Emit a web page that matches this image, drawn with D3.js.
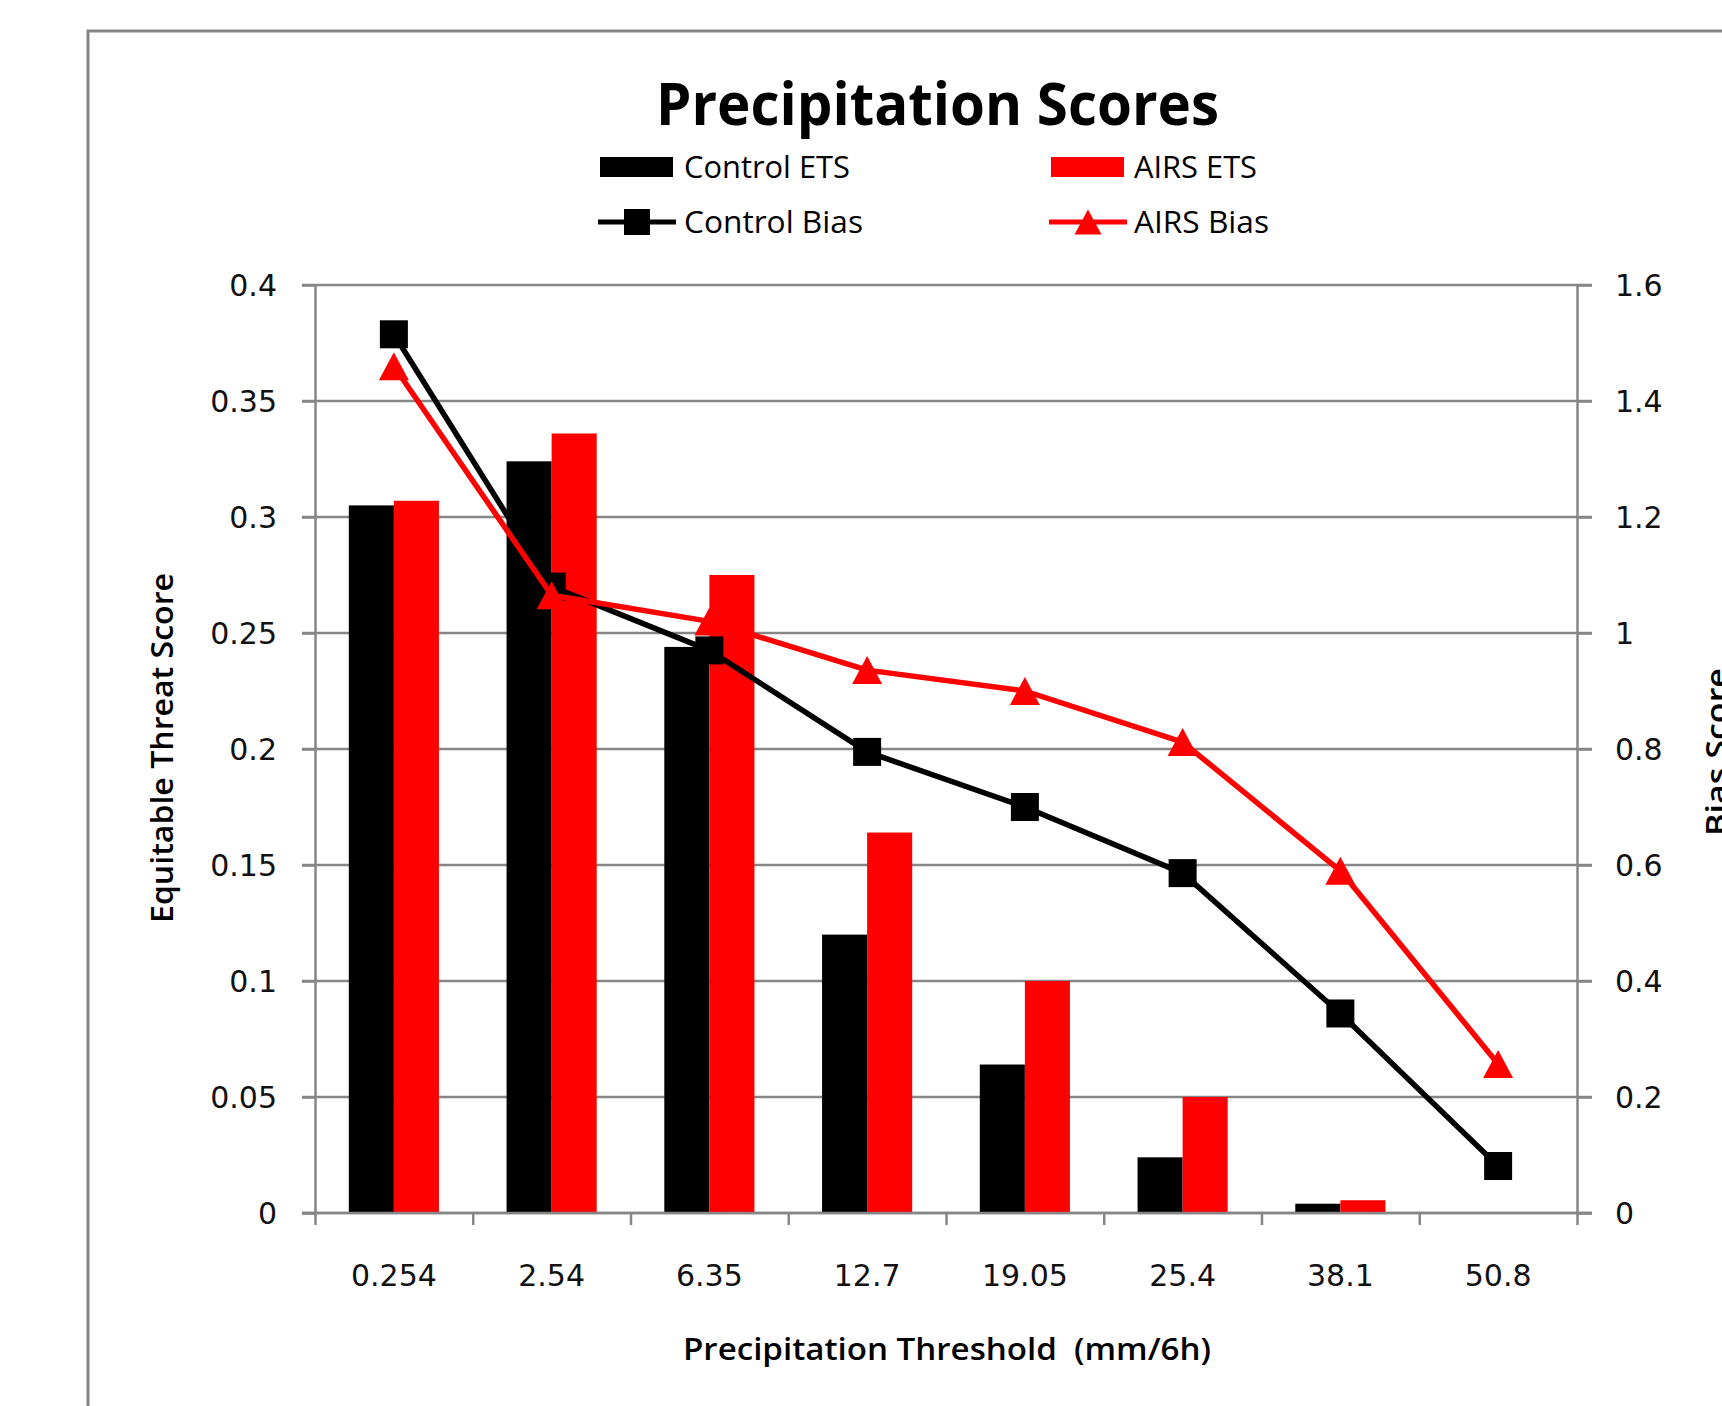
<!DOCTYPE html>
<html>
<head>
<meta charset="utf-8">
<script src="https://cdn.jsdelivr.net/npm/d3@7"></script>
<style>
  html, body { margin: 0; padding: 0; background: #fff; }
  svg { display: block; }
  text { white-space: pre; }
</style>
</head>
<body>
<svg id="chart" width="1722" height="1406"></svg>
<script>
// ---------------- data ----------------
const categories = ["0.254", "2.54", "6.35", "12.7", "19.05", "25.4", "38.1", "50.8"];
const controlETS = [0.305, 0.324, 0.244, 0.120, 0.064, 0.024, 0.004, 0];
const airsETS    = [0.307, 0.336, 0.275, 0.164, 0.100, 0.050, 0.0055, 0];
const controlBias = [1.515, 1.08, 0.97, 0.795, 0.70, 0.586, 0.344, 0.081];
const airsBias    = [1.46, 1.065, 1.02, 0.936, 0.90, 0.812, 0.59, 0.257];
const leftTicks  = [0, 0.05, 0.1, 0.15, 0.2, 0.25, 0.3, 0.35, 0.4];
const leftTickLabels = ["0", "0.05", "0.1", "0.15", "0.2", "0.25", "0.3", "0.35", "0.4"];
const rightTicks = [0, 0.2, 0.4, 0.6, 0.8, 1, 1.2, 1.4, 1.6];
const rightTickLabels = ["0", "0.2", "0.4", "0.6", "0.8", "1", "1.2", "1.4", "1.6"];
const titleText = "Precipitation Scores";
const xTitle = "Precipitation Threshold  (mm/6h)";
const yLeftTitle = "Equitable Threat Score";
const yRightTitle = "Bias Score";
const seriesNames = ["Control ETS", "AIRS ETS", "Control Bias", "AIRS Bias"];

// ---------------- layout ----------------
const svg = d3.select("#chart");
const W = 1722, H = 1406;
const plot = { left: 315, right: 1577, top: 285, bottom: 1213 };
const grey = "#868686";
const RED = "#ff0000", BLACK = "#000000";
const tickFont = "'DejaVu Sans', Verdana, sans-serif";
const textFont = "'Open Sans', 'Noto Sans', sans-serif";

svg.append("rect").attr("width", W).attr("height", H).attr("fill", "#fff");

// outer chart border (cropped on right/bottom)
svg.append("path")
  .attr("d", `M88,${H + 5} L88,31 L${W + 5},31`)
  .attr("fill", "none").attr("stroke", grey).attr("stroke-width", 3);

// scales
const x = d3.scaleBand().domain(categories).range([plot.left, plot.right]).padding(0);
const band = x.bandwidth();
const barW = band / 3.5;
const xSub = d3.scaleBand().domain(["control", "airs"]).range([band / 2 - barW, band / 2 + barW]).padding(0);
const xIdx = d3.scaleLinear().domain([0, categories.length]).range([plot.left, plot.right]);
const yL = d3.scaleLinear().domain([0, 0.4]).range([plot.bottom, plot.top]);
const yR = d3.scaleLinear().domain([0, 1.6]).range([plot.bottom, plot.top]);

// gridlines
svg.append("g").selectAll("line").data(leftTicks).join("line")
  .attr("x1", plot.left - 13).attr("x2", plot.right + 15)
  .attr("y1", d => yL(d)).attr("y2", d => yL(d))
  .attr("stroke", grey).attr("stroke-width", 2.5);

// left axis
const axL = svg.append("g").attr("transform", `translate(${plot.left},0)`)
  .call(d3.axisLeft(yL).tickValues(leftTicks).tickSizeInner(13).tickSizeOuter(0).tickPadding(25)
    .tickFormat((d, i) => leftTickLabels[i]));
axL.select(".domain").attr("stroke", grey).attr("stroke-width", 2.5);
axL.selectAll(".tick line").attr("stroke", grey).attr("stroke-width", 2.5);
axL.selectAll(".tick text").attr("font-family", tickFont).attr("font-size", 30)
  .attr("fill", "#111").attr("dy", "0.36em");

// right axis
const axR = svg.append("g").attr("transform", `translate(${plot.right},0)`)
  .call(d3.axisRight(yR).tickValues(rightTicks).tickSizeInner(15).tickSizeOuter(0).tickPadding(23)
    .tickFormat((d, i) => rightTickLabels[i]));
axR.select(".domain").attr("stroke", grey).attr("stroke-width", 2.5);
axR.selectAll(".tick line").attr("stroke", grey).attr("stroke-width", 2.5);
axR.selectAll(".tick text").attr("font-family", tickFont).attr("font-size", 30)
  .attr("fill", "#111").attr("dy", "0.36em");

// bottom axis: boundary ticks
const axB = svg.append("g").attr("transform", `translate(0,${plot.bottom})`)
  .call(d3.axisBottom(xIdx).tickValues(d3.range(categories.length + 1)).tickSizeInner(12).tickSizeOuter(0).tickFormat(""));
axB.select(".domain").remove();
axB.selectAll(".tick line").attr("stroke", grey).attr("stroke-width", 2.5);

// category labels
svg.append("g").selectAll("text").data(categories).join("text")
  .attr("x", d => x(d) + band / 2).attr("y", 1286)
  .attr("text-anchor", "middle")
  .attr("font-family", tickFont).attr("font-size", 30).attr("fill", "#111")
  .text(d => d);

// bars
const barData = categories.map((c, i) => [
  { c, key: "control", v: controlETS[i], color: BLACK },
  { c, key: "airs", v: airsETS[i], color: RED }
]).flat();
svg.append("g").selectAll("rect").data(barData).join("rect")
  .attr("x", d => x(d.c) + xSub(d.key))
  .attr("width", xSub.bandwidth())
  .attr("y", d => yL(d.v))
  .attr("height", d => yL(0) - yL(d.v))
  .attr("fill", d => d.color);

// bottom axis line drawn above bars
svg.append("line")
  .attr("x1", plot.left - 13).attr("x2", plot.right + 15)
  .attr("y1", yL(0)).attr("y2", yL(0))
  .attr("stroke", grey).attr("stroke-width", 2.5);

// lines
const line = d3.line().x((d, i) => x(categories[i]) + band / 2).y(d => yR(d));
svg.append("path").datum(controlBias).attr("d", line)
  .attr("fill", "none").attr("stroke", BLACK).attr("stroke-width", 5.5).attr("stroke-linejoin", "round");
svg.append("g").selectAll("rect").data(controlBias).join("rect")
  .attr("x", (d, i) => x(categories[i]) + band / 2 - 14)
  .attr("y", d => yR(d) - 14)
  .attr("width", 28).attr("height", 28).attr("fill", BLACK);

svg.append("path").datum(airsBias).attr("d", line)
  .attr("fill", "none").attr("stroke", RED).attr("stroke-width", 5.5).attr("stroke-linejoin", "round");
const tri = (cx, cy, w, h) => `M${cx},${cy - h / 2} L${cx + w / 2},${cy + h / 2} L${cx - w / 2},${cy + h / 2} Z`;
svg.append("g").selectAll("path").data(airsBias).join("path")
  .attr("d", (d, i) => tri(x(categories[i]) + band / 2, yR(d), 30, 28))
  .attr("fill", RED);

// title
svg.append("text").attr("x", 656).attr("y", 125)
  .attr("font-family", textFont).attr("font-weight", 700).attr("font-size", 59)
  .attr("textLength", 563).attr("lengthAdjust", "spacingAndGlyphs")
  .attr("fill", "#000").text(titleText);

// legend
const legend = svg.append("g");
const legItems = [
  { name: seriesNames[0], type: "bar", color: BLACK, x: 600, y: 167, tx: 684, tl: 166 },
  { name: seriesNames[1], type: "bar", color: RED, x: 1051, y: 167, tx: 1134, tl: 123 },
  { name: seriesNames[2], type: "sq", color: BLACK, x: 598, y: 222, tx: 684, tl: 179 },
  { name: seriesNames[3], type: "tri", color: RED, x: 1049, y: 222, tx: 1134, tl: 135 }
];
legItems.forEach(d => {
  if (d.type === "bar") {
    legend.append("rect").attr("x", d.x).attr("y", d.y - 10).attr("width", 73).attr("height", 20).attr("fill", d.color);
  } else {
    legend.append("line").attr("x1", d.x).attr("x2", d.x + 78).attr("y1", d.y).attr("y2", d.y)
      .attr("stroke", d.color).attr("stroke-width", 5);
    if (d.type === "sq") {
      legend.append("rect").attr("x", d.x + 39 - 13).attr("y", d.y - 13).attr("width", 26).attr("height", 26).attr("fill", d.color);
    } else {
      legend.append("path").attr("d", tri(d.x + 39, d.y, 27, 25)).attr("fill", d.color);
    }
  }
  legend.append("text").attr("x", d.tx).attr("y", d.y + 11)
    .attr("font-family", textFont).attr("font-size", 31)
    .attr("textLength", d.tl).attr("lengthAdjust", "spacingAndGlyphs")
    .attr("fill", "#000").text(d.name);
});

// axis titles
svg.append("text").attr("transform", `translate(173,748) rotate(-90)`)
  .attr("text-anchor", "middle")
  .attr("font-family", textFont).attr("font-weight", 600).attr("font-size", 30)
  .attr("textLength", 350).attr("lengthAdjust", "spacingAndGlyphs")
  .attr("fill", "#000").text(yLeftTitle);

svg.append("text").attr("transform", `translate(1728,752) rotate(-90)`)
  .attr("text-anchor", "middle")
  .attr("font-family", textFont).attr("font-weight", 600).attr("font-size", 30)
  .attr("textLength", 168).attr("lengthAdjust", "spacingAndGlyphs")
  .attr("fill", "#000").text(yRightTitle);

svg.append("text").attr("x", 947).attr("y", 1360)
  .attr("text-anchor", "middle")
  .attr("font-family", textFont).attr("font-weight", 600).attr("font-size", 30)
  .attr("textLength", 528).attr("lengthAdjust", "spacingAndGlyphs")
  .attr("fill", "#000").text(xTitle);
</script>
</body>
</html>
